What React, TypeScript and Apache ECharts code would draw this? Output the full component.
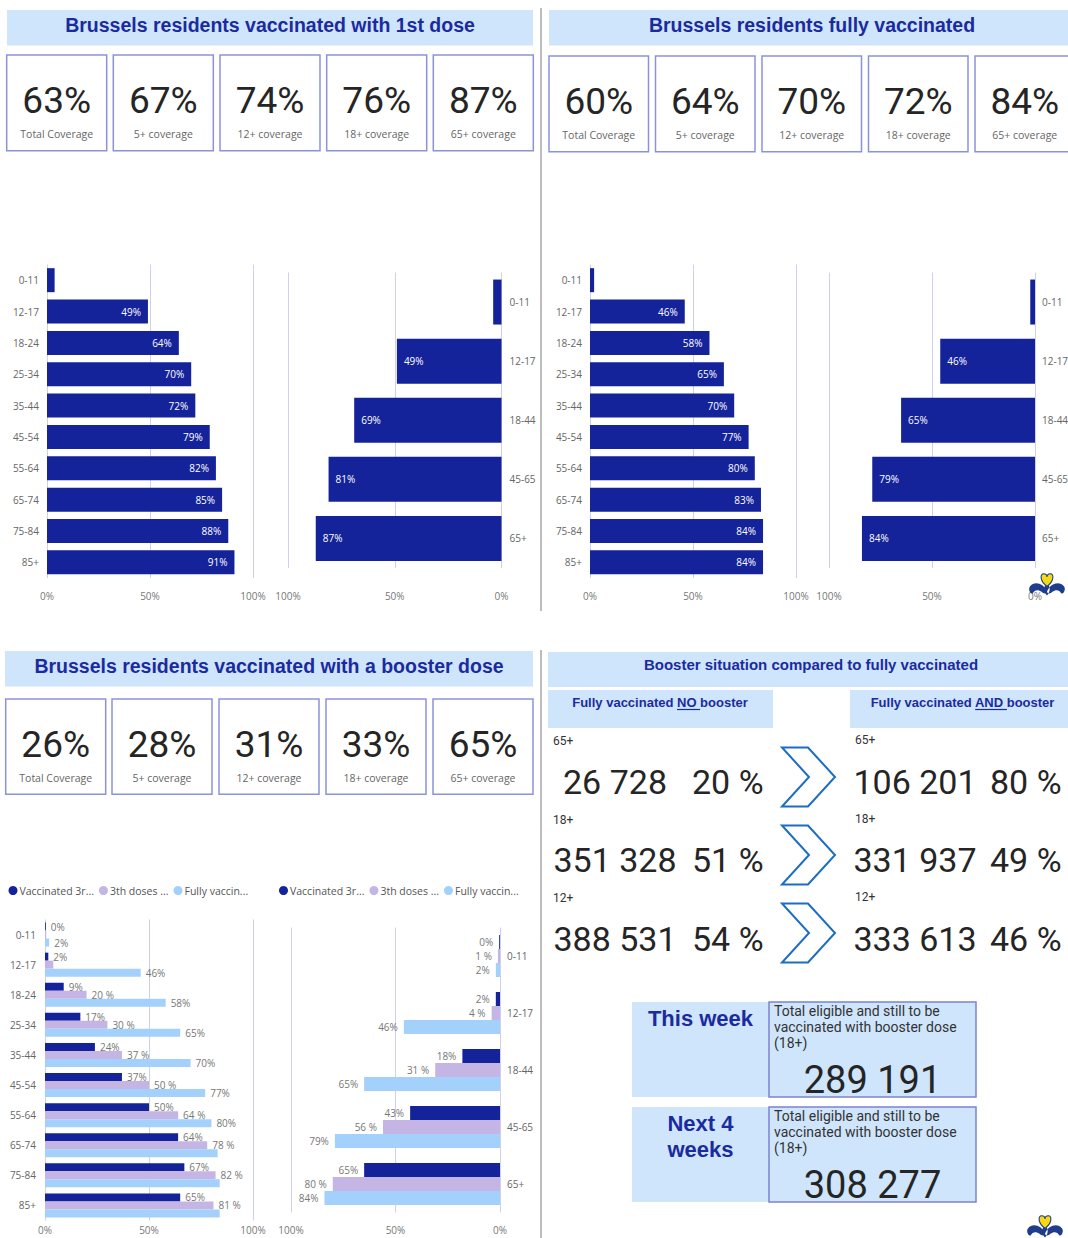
import React, { useEffect, useRef } from "react";
import * as echarts from "echarts";

// ---------------- DATA ----------------
const AGE_DETAIL = ["0-11", "12-17", "18-24", "25-34", "35-44", "45-54", "55-64", "65-74", "75-84", "85+"];
const AGE_GROUPS = ["0-11", "12-17", "18-44", "45-65", "65+"];

const KPI_LABELS = ["Total Coverage", "5+ coverage", "12+ coverage", "18+ coverage", "65+ coverage"];
const FIRST_DOSE_KPI = [63, 67, 74, 76, 87];
const FULLY_KPI = [60, 64, 70, 72, 84];
const BOOSTER_KPI = [26, 28, 31, 33, 65];

const FIRST_DOSE_DETAIL = [3.7, 49, 64, 70, 72, 79, 82, 85, 88, 91];
const FIRST_DOSE_GROUPS = [3.9, 49, 69, 81, 87];
const FULLY_DETAIL = [2, 46, 58, 65, 70, 77, 80, 83, 84, 84];
const FULLY_GROUPS = [2.3, 46, 65, 79, 84];

const THIRD_VACC_DETAIL = [0.4, 1.6, 9, 17, 24, 37, 50, 64, 67, 65];
const THIRD_DOSES_DETAIL = [0.6, 4, 20, 30, 37, 50, 64, 78, 82, 81];
const THIRD_FULLY_DETAIL = [2, 46, 58, 65, 70, 77, 80, 83, 84, 84];
const THIRD_VACC_GROUPS = [0.4, 2, 18, 43, 65];
const THIRD_DOSES_GROUPS = [1, 4, 31, 56, 80];
const THIRD_FULLY_GROUPS = [2, 46, 65, 79, 84];

const LEGEND_NAMES = ["Vaccinated 3r...", "3th doses ...", "Fully vaccin..."];

const BOOSTER_AGE = ["65+", "18+", "12+"];
const NO_BOOSTER_COUNT = [26728, 351328, 388531];
const NO_BOOSTER_PCT = [20, 51, 54];
const AND_BOOSTER_COUNT = [106201, 331937, 333613];
const AND_BOOSTER_PCT = [80, 49, 46];

const PERIODS = ["This week", "Next 4\nweeks"];
const STILL_TO_VACCINATE = [289191, 308277];

// ---------------- STYLE ----------------
const C = {
  dark: "#15239b",
  lavender: "#c4b5e5",
  light: "#a3d1fb",
  titleBg: "#cfe5fc",
  titleText: "#1b2b9f",
  grid: "#cdd0f0",
  axisText: "#777777",
  border: "#8c92da",
  num: "#252525",
  sub: "#666666",
  chevron: "#1c6dc4",
};
const F_UI = '"Open Sans", "Noto Sans", sans-serif';
const F_NUM = 'Roboto, "DejaVu Sans", sans-serif';
const F_TITLE = '"Liberation Sans", Arial, sans-serif';

const BLUE_LOGO =
  "M20 22 C16 12 6 10 1 16 C-1 19 1 24 4 24 C6 20 10 19 14 22 C16 24 19 25 20 22 Z " +
  "M20 22 C24 12 34 10 39 16 C41 19 39 24 36 24 C34 20 30 19 26 22 C24 24 21 25 20 22 Z " +
  "M20 12 C16 16 16 22 20 26 C24 22 24 16 20 12 Z";
const HEART_LOGO =
  "M20 16 C12 10 12 2 16.3 2 C18.4 2 20 3.6 20 5.5 C20 3.6 21.6 2 23.7 2 C28 2 28 10 20 16 Z";

echarts.graphic.registerShape("brusselsBlue", echarts.graphic.extendPath(BLUE_LOGO, {}) as any);
echarts.graphic.registerShape("brusselsHeart", echarts.graphic.extendPath(HEART_LOGO, {}) as any);

function thousands(n: number) {
  return String(n).replace(/\B(?=(\d{3})+(?!\d))/g, " ");
}

function measure(text: string, font: string) {
  const cv = document.createElement("canvas");
  const ctx = cv.getContext("2d");
  if (!ctx) return text.length * 7;
  ctx.font = font;
  return ctx.measureText(text).width;
}

function txt(x: number, y: number, text: string, o: any) {
  return {
    type: "text",
    x,
    y,
    silent: true,
    z: o.z || 10,
    style: {
      text,
      fill: o.fill || C.num,
      fontSize: o.fontSize || 12,
      fontFamily: o.fontFamily || F_UI,
      fontWeight: o.fontWeight || "normal",
      textAlign: o.align || "left",
      align: o.align || "left",
      textVerticalAlign: o.valign || "middle",
      verticalAlign: o.valign || "middle",
      lineHeight: o.lineHeight,
    },
  };
}

function rect(x: number, y: number, w: number, h: number, fill: string, stroke?: string, lw = 1.5) {
  return {
    type: "rect",
    silent: true,
    z: 1,
    shape: { x, y, width: w, height: h },
    style: { fill, stroke: stroke || null, lineWidth: stroke ? lw : 0 },
  };
}

function titleBar(x: number, y: number, w: number, h: number, text: string, fontSize: number, tx: number, dy: number) {
  return [
    rect(x, y, w, h, C.titleBg),
    txt(tx, y + h / 2 + dy, text, {
      align: "center",
      fontSize,
      fontWeight: "bold",
      fontFamily: F_TITLE,
      fill: C.titleText,
    }),
  ];
}

function cards(xs: number[], y: number, w: number, h: number, values: number[]) {
  const out: any[] = [];
  xs.forEach((x, i) => {
    out.push(rect(x, y, w, h, "#ffffff", C.border, 1.5));
    out.push(txt(x + w / 2, y + 45.5, values[i] + "%", { align: "center", fontSize: 37, fontFamily: F_NUM, fill: C.num }));
    out.push(txt(x + w / 2, y + 78.5, KPI_LABELS[i], { align: "center", fontSize: 10.5, fontFamily: F_UI, fill: C.sub }));
  });
  return out;
}

function chevron(cy: number) {
  return {
    type: "polygon",
    silent: true,
    z: 5,
    shape: {
      points: [
        [782, cy - 29.5],
        [808, cy - 29.5],
        [835, cy],
        [808, cy + 29.5],
        [782, cy + 29.5],
        [809, cy],
      ],
    },
    style: { fill: "#ffffff", stroke: C.chevron, lineWidth: 2 },
  };
}

function logo(x: number, y: number, s: number) {
  return [
    { type: "brusselsBlue", x, y, scaleX: s, scaleY: s, z: 50, silent: true, style: { fill: "#1f3d8c" } },
    {
      type: "brusselsHeart",
      x,
      y,
      scaleX: s,
      scaleY: s,
      z: 51,
      silent: true,
      style: { fill: "#f6d90f", stroke: "#1f3d8c", lineWidth: 1.2 },
    },
  ];
}

function buildOption() {
  // ---------- grids / axes ----------
  const gridDefs = [
    { left: 47, top: 264.5, width: 206, height: 313.5 },
    { left: 288, top: 272.5, width: 213.5, height: 295.5 },
    { left: 590, top: 264.5, width: 206, height: 313.5 },
    { left: 829, top: 272.5, width: 206, height: 295.5 },
    { left: 45, top: 919.5, width: 208, height: 301 },
    { left: 291, top: 927.5, width: 209, height: 285 },
  ];
  const grid = gridDefs.map((g) => ({ ...g, containLabel: false, outerBoundsMode: "none" }));
  const xCfg = [
    { inverse: false, margin: 13 },
    { inverse: true, margin: 23 },
    { inverse: false, margin: 13 },
    { inverse: true, margin: 23 },
    { inverse: false, margin: 4 },
    { inverse: true, margin: 12 },
  ];
  const xAxis = xCfg.map((c, i) => ({
    type: "value",
    gridIndex: i,
    min: 0,
    max: 100,
    interval: 50,
    inverse: c.inverse,
    axisLine: { show: false },
    axisTick: { show: false },
    splitLine: { show: true, lineStyle: { color: C.grid, width: 1 } },
    axisLabel: { formatter: "{value}%", color: C.axisText, fontSize: 10, fontFamily: F_UI, margin: c.margin },
  }));
  const yCfg = [
    { data: AGE_DETAIL, pos: "left", margin: 8 },
    { data: AGE_GROUPS, pos: "right", margin: 8 },
    { data: AGE_DETAIL, pos: "left", margin: 8 },
    { data: AGE_GROUPS, pos: "right", margin: 7 },
    { data: AGE_DETAIL, pos: "left", margin: 9 },
    { data: AGE_GROUPS, pos: "right", margin: 7 },
  ];
  const yAxis = yCfg.map((c, i) => ({
    type: "category",
    gridIndex: i,
    data: c.data,
    inverse: true,
    position: c.pos,
    axisLine: { show: false },
    axisTick: { show: false },
    splitLine: { show: false },
    axisLabel: { color: "#666", fontSize: 10, fontFamily: F_UI, margin: c.margin },
  }));

  // ---------- series ----------
  const single = (name: string, idx: number, data: number[], barWidth: number, pos: string) => ({
    type: "bar",
    name,
    xAxisIndex: idx,
    yAxisIndex: idx,
    data,
    barWidth,
    itemStyle: { color: C.dark },
    label: {
      show: true,
      position: pos,
      distance: 7,
      color: "#ffffff",
      fontSize: 10,
      fontFamily: F_UI,
      formatter: (p: any) => (p.dataIndex === 0 ? "" : Math.round(p.value) + "%"),
    },
  });

  const triple = (idx: number, data: number[][], barWidth: number, pos: string, hidden: number[][]) =>
    data.map((d, k) => ({
      type: "bar",
      name: LEGEND_NAMES[k],
      xAxisIndex: idx,
      yAxisIndex: idx,
      data: d,
      barWidth,
      barGap: "0%",
      itemStyle: { color: [C.dark, C.lavender, C.light][k] },
      label: {
        show: true,
        position: pos,
        distance: pos === "left" ? 6 : 5,
        color: "#777",
        fontSize: 10,
        fontFamily: F_UI,
        formatter: (p: any) =>
          hidden[k].indexOf(p.dataIndex) >= 0 ? "" : Math.round(p.value) + (k === 1 ? " %" : "%"),
      },
    }));

  const series: any[] = [
    single("1st dose by age", 0, FIRST_DOSE_DETAIL, 24, "insideRight"),
    single("1st dose by age group", 1, FIRST_DOSE_GROUPS, 45, "insideLeft"),
    single("Fully vaccinated by age", 2, FULLY_DETAIL, 24, "insideRight"),
    single("Fully vaccinated by age group", 3, FULLY_GROUPS, 45, "insideLeft"),
    ...triple(4, [THIRD_VACC_DETAIL, THIRD_DOSES_DETAIL, THIRD_FULLY_DETAIL], 8, "right", [[], [0, 1], [7, 8, 9]]),
    ...triple(5, [THIRD_VACC_GROUPS, THIRD_DOSES_GROUPS, THIRD_FULLY_GROUPS], 14, "left", [[], [], []]),
  ];

  const legendBase = {
    top: 885,
    padding: 0,
    icon: "circle",
    itemWidth: 9,
    itemHeight: 9,
    itemGap: 5,
    selectedMode: false,
    data: LEGEND_NAMES,
    textStyle: { color: "#555", fontSize: 10.5, fontFamily: F_UI, padding: [0, 0, 0, -3] },
  };
  const legend = [
    { ...legendBase, left: 8.5 },
    { ...legendBase, left: 279 },
  ];

  // ---------- graphics ----------
  const els: any[] = [];
  els.push({ type: "line", silent: true, shape: { x1: 541, y1: 8, x2: 541, y2: 611 }, style: { stroke: "#bdbdbd", lineWidth: 2 } });
  els.push({ type: "line", silent: true, shape: { x1: 541, y1: 650, x2: 541, y2: 1238 }, style: { stroke: "#bdbdbd", lineWidth: 2 } });

  els.push(...titleBar(7, 10, 526, 35.5, "Brussels residents vaccinated with 1st dose", 19.5, 270, -2.5));
  els.push(...titleBar(549, 10, 519, 35.5, "Brussels residents fully vaccinated", 19.5, 812, -2.5));
  els.push(...titleBar(5, 651, 528, 35.5, "Brussels residents vaccinated with a booster dose", 19.5, 269, -2.5));

  els.push(...cards([6.7, 113.3, 220, 326.7, 433.3], 55, 100, 95.7, FIRST_DOSE_KPI));
  els.push(...cards([549, 655.5, 762, 868.5, 975], 56, 99.5, 95.7, FULLY_KPI));
  els.push(...cards([5.7, 112, 219, 326, 433], 699, 100, 95.3, BOOSTER_KPI));

  // booster situation
  els.push(...titleBar(548, 652, 520, 35, "Booster situation compared to fully vaccinated", 15, 811, -5));
  const subFont = `bold 13px ${F_TITLE}`;
  const subHeaders = [
    { x: 548, w: 225, cx: 660, pre: "Fully vaccinated ", key: "NO ", post: "booster" },
    { x: 850, w: 218, cx: 962.5, pre: "Fully vaccinated ", key: "AND ", post: "booster" },
  ];
  subHeaders.forEach((s) => {
    els.push(rect(s.x, 690, s.w, 38, C.titleBg));
    const full = s.pre + s.key + s.post;
    els.push(txt(s.cx, 702, full, { align: "center", fontSize: 13, fontWeight: "bold", fontFamily: F_TITLE, fill: C.titleText }));
    const W = measure(full, subFont);
    const P = measure(s.pre, subFont);
    const K = measure(s.key, subFont);
    const x0 = s.cx - W / 2 + P;
    els.push({ type: "line", silent: true, z: 11, shape: { x1: x0, y1: 709.5, x2: x0 + K, y2: 709.5 }, style: { stroke: C.titleText, lineWidth: 1.2 } });
  });

  const labelY = [741, 820, 898];
  const numY = [781.5, 860, 938.5];
  const chevY = [777, 855, 933];
  BOOSTER_AGE.forEach((age, i) => {
    els.push(txt(553, labelY[i], age, { fontSize: 12, fontFamily: F_NUM, fill: "#333" }));
    els.push(txt(855, labelY[i] - 1, age, { fontSize: 12, fontFamily: F_NUM, fill: "#333" }));
    els.push(txt(615, numY[i], thousands(NO_BOOSTER_COUNT[i]), { align: "center", fontSize: 34, fontFamily: F_NUM, fill: C.num }));
    els.push(txt(692, numY[i], NO_BOOSTER_PCT[i] + " %", { fontSize: 34, fontFamily: F_NUM, fill: C.num }));
    els.push(txt(915, numY[i], thousands(AND_BOOSTER_COUNT[i]), { align: "center", fontSize: 34, fontFamily: F_NUM, fill: C.num }));
    els.push(txt(990, numY[i], AND_BOOSTER_PCT[i] + " %", { fontSize: 34, fontFamily: F_NUM, fill: C.num }));
    els.push(chevron(chevY[i]));
  });

  // this week / next 4 weeks
  const boxY = [1002, 1107];
  PERIODS.forEach((p, i) => {
    const y = boxY[i];
    els.push(rect(632, y, 137, 95, C.titleBg));
    els.push(rect(769, y, 207, 95, C.titleBg, "#7c83d4", 1.5));
    els.push(
      txt(700.5, i === 0 ? y + 16.5 : y + 29, p, {
        align: "center",
        fontSize: 22,
        fontWeight: "bold",
        fontFamily: F_TITLE,
        fill: C.titleText,
        lineHeight: 26,
      })
    );
    els.push(
      txt(774, y + 1.5, "Total eligible and still to be\nvaccinated with booster dose\n(18+)", {
        valign: "top",
        fontSize: 14,
        fontFamily: F_NUM,
        fill: "#333",
        lineHeight: 15.8,
      })
    );
    els.push(txt(872.5, y + 77.5, thousands(STILL_TO_VACCINATE[i]), { align: "center", fontSize: 38, fontFamily: F_NUM, fill: C.num }));
  });

  els.push(...logo(1029, 572, 0.9));
  els.push(...logo(1027, 1214, 0.9));

  return {
    animation: false,
    backgroundColor: "#ffffff",
    grid,
    xAxis,
    yAxis,
    legend,
    series,
    graphic: { elements: els },
  };
}

export default function App() {
  const ref = useRef<HTMLDivElement>(null);
  useEffect(() => {
    document.body.style.margin = "0";
    document.body.style.overflow = "hidden";
    const chart = echarts.init(ref.current as HTMLDivElement, null, { renderer: "svg" });
    chart.setOption(buildOption() as any);
    return () => chart.dispose();
  }, []);
  return <div ref={ref} style={{ width: 1068, height: 1238 }} />;
}
